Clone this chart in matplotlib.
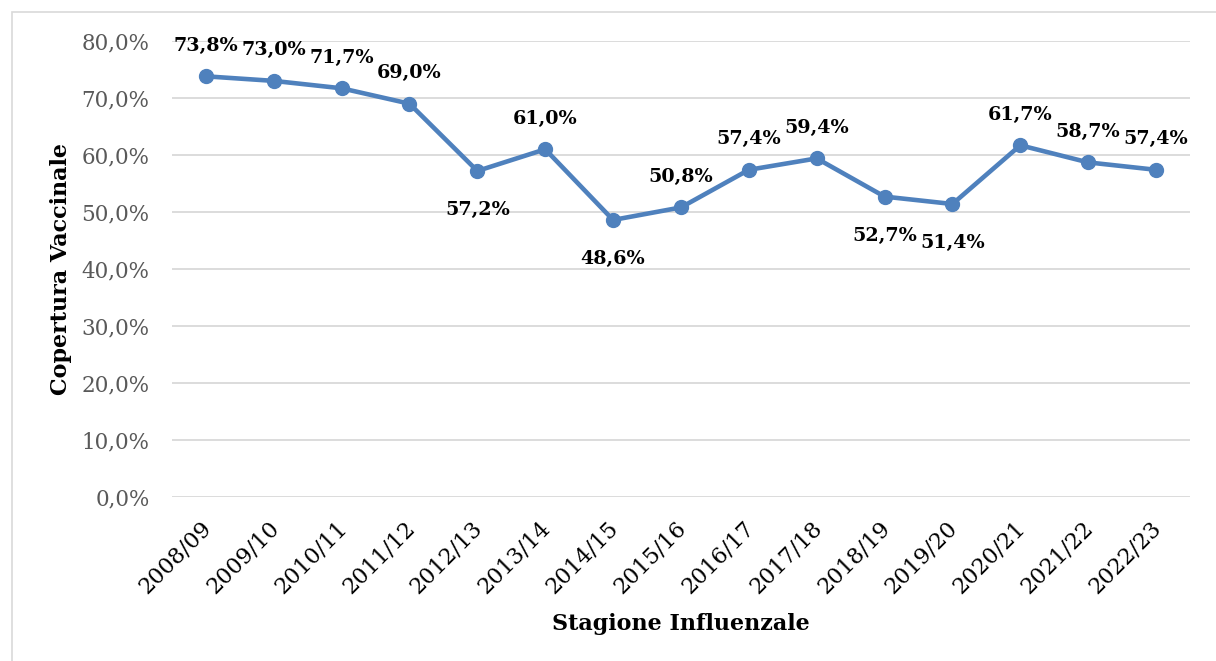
import matplotlib
matplotlib.use("Agg")
import matplotlib.pyplot as plt
from matplotlib.patches import Rectangle
from matplotlib.ticker import FuncFormatter, MultipleLocator
from matplotlib.transforms import ScaledTranslation

# dati
stagioni = ['2008/09', '2009/10', '2010/11', '2011/12', '2012/13', '2013/14',
            '2014/15', '2015/16', '2016/17', '2017/18', '2018/19', '2019/20',
            '2020/21', '2021/22', '2022/23']
copertura = [73.8, 73.0, 71.7, 69.0, 57.2, 61.0, 48.6, 50.8, 57.4, 59.4,
             52.7, 51.4, 61.7, 58.7, 57.4]
# etichette sotto il punto
sotto = {'2012/13', '2014/15', '2018/19', '2019/20'}

plt.rcParams['font.family'] = ['DejaVu Serif']

fig = plt.figure(figsize=(12.16, 6.61), dpi=100)
ax = fig.add_axes([0.1414, 0.2481, 0.8372, 0.6899])

# cornice grigia
fig.patches.append(Rectangle((12 / 1216, -0.1), 1.2, 1 - 12 / 661 + 0.1,
                             transform=fig.transFigure, fill=False,
                             edgecolor='#d9d9d9', linewidth=1.2))

x = list(range(len(stagioni)))
ax.plot(x, copertura, color='#4f81bd', linewidth=3.3, marker='o',
        markersize=10, solid_capstyle='round', zorder=3)

for xi, s, v in zip(x, stagioni, copertura):
    testo = f"{v:.1f}%".replace('.', ',')
    if s in sotto:
        ax.annotate(testo, (xi, v), xytext=(0, -28), textcoords='offset points',
                    ha='center', va='center', fontsize=13.8, fontweight='bold')
    else:
        ax.annotate(testo, (xi, v), xytext=(0, 22), textcoords='offset points',
                    ha='center', va='center', fontsize=13.8, fontweight='bold')

ax.set_xlim(-0.5, len(stagioni) - 0.5)
ax.set_ylim(0, 80)
ax.yaxis.set_major_locator(MultipleLocator(10))
ax.yaxis.set_major_formatter(FuncFormatter(lambda v, p: f"{v:.1f}%".replace('.', ',')))
ax.grid(axis='y', color='#d9d9d9', linewidth=1.3)
ax.set_axisbelow(True)
for sp in ax.spines.values():
    sp.set_visible(False)
ax.tick_params(axis='both', length=0)
ax.tick_params(axis='y', labelsize=15.5, colors='#595959', pad=16)
ax.set_xticks(x)
ax.set_xticklabels(stagioni, rotation=45, ha='right', rotation_mode='anchor',
                   fontsize=16)
ax.tick_params(axis='x', pad=14)
spost = ScaledTranslation(-6 / 100, 0, fig.dpi_scale_trans)
for lab in ax.get_xticklabels():
    lab.set_transform(lab.get_transform() + spost)

ax.set_ylabel('Copertura Vaccinale', fontsize=16, fontweight='bold')
ax.yaxis.set_label_coords(-0.098, 0.5)
ax.set_xlabel('Stagione Influenzale', fontsize=16, fontweight='bold')
ax.xaxis.set_label_coords(0.5, -0.255)

fig.savefig('out.png', dpi=100)
